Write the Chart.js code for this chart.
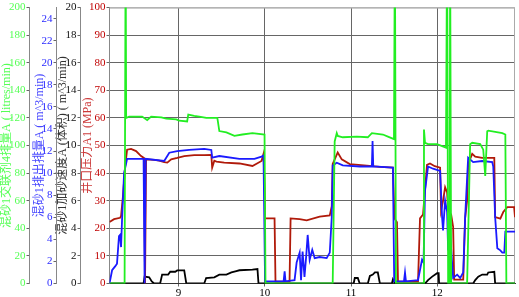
<!DOCTYPE html>
<html>
<head>
<meta charset="utf-8">
<script src="https://cdn.jsdelivr.net/npm/chart.js@4.4.1/dist/chart.umd.min.js"></script>
<style>
  html, body { margin:0; padding:0; background:#fff; }
  #wrap { width:519px; height:297px; }
</style>
</head>
<body>
<div id="wrap"><canvas id="c" width="519" height="297"></canvas></div>
<script>
// time axis
const X_MIN = 8.2, X_MAX = 12.9;
const xTicks = [9, 10, 11, 12];

// 井口压力A1 (MPa)
const presX = [8.2, 8.253, 8.323, 8.334, 8.357, 8.38, 8.404, 8.45, 8.508, 8.566, 8.6, 8.612, 8.624,
  8.718, 8.776, 8.834, 8.87, 8.915, 8.985, 9.066, 9.182, 9.298, 9.38, 9.39, 9.415, 9.44, 9.53, 9.706,
  9.857, 9.962, 9.985, 9.997, 10.003, 10.113, 10.124, 10.287, 10.299, 10.403, 10.485, 10.636, 10.753,
  10.776, 10.787, 10.845, 10.892, 10.985, 11.183, 11.334, 11.485, 11.503, 11.532, 11.544, 11.776,
  11.799, 11.834, 11.88, 11.915, 11.97, 12.032, 12.043, 12.066, 12.09, 12.113, 12.125, 12.16, 12.183,
  12.195, 12.3, 12.322, 12.345, 12.357, 12.404, 12.439, 12.52, 12.66, 12.67, 12.73, 12.764, 12.81, 12.89, 12.9];
const presY = [22.3, 23.3, 23.8, 24.5, 32, 42, 48.5, 48.8, 48, 46.2, 45.5, 0, 45,
  44.8, 44.5, 44, 43.8, 45, 45.5, 46.2, 46.5, 46.5, 46.6, 42, 44.5, 44.2, 43.8, 43.5,
  42.6, 44.4, 47, 36, 23.6, 23.6, 0.7, 0.7, 23.6, 23.3, 22.9, 24.2, 24.7,
  28, 43.3, 47.5, 45, 43.3, 42.7, 42.3, 42, 23.6, 22.2, 0.7, 0.7,
  23.6, 25, 43, 43.5, 42.5, 42, 26.5, 30, 34.9, 33, 26.5, 25, 20.5,
  1.4, 1.4, 23.6, 30, 43.3, 47, 46, 45.5, 45.5, 24.1, 23.5, 25.9, 27.7, 27.7, 24];

// 混砂1排出排量A (m^3/min)
const rateX = [8.2, 8.23, 8.265, 8.287, 8.31, 8.322, 8.334, 8.345, 8.369, 8.404, 8.595, 8.607, 8.619,
  8.834, 8.893, 8.985, 9.124, 9.298, 9.38, 9.39, 9.473, 9.706, 9.88, 9.962, 9.985, 10.003, 10.218,
  10.23, 10.24, 10.345, 10.369, 10.404, 10.42, 10.438, 10.46, 10.48, 10.497, 10.52, 10.55, 10.578,
  10.636, 10.717, 10.753, 10.776, 10.787, 10.834, 10.904, 11.101, 11.241, 11.249, 11.257, 11.485,
  11.5, 11.613, 11.625, 11.636, 11.776, 11.822, 11.84, 11.857, 11.892, 11.95, 12.032, 12.055, 12.066,
  12.09, 12.113, 12.125, 12.148, 12.183, 12.23, 12.265, 12.3, 12.322, 12.357, 12.415, 12.52, 12.636,
  12.648, 12.67, 12.695, 12.73, 12.753, 12.776, 12.788, 12.9];
const rateY = [0, 1.2, 1.55, 1.8, 4.3, 4.4, 3.3, 5.7, 10, 11.3, 11.3, 0, 11.3,
  11.1, 11.85, 12.0, 12.1, 12.2, 12.1, 11.4, 11.55, 11.3, 11.3, 11.5, 11.6, 0.2, 0.2,
  1.1, 0.2, 0.3, 1.9, 2.8, 0.3, 2.9, 0.6, 2.5, 4.4, 2.15, 3.05, 2.3,
  2.4, 2.3, 2.8, 6, 10.7, 10.95, 10.7, 10.6, 10.6, 12.9, 10.6, 10.5,
  0.2, 0.2, 1.0, 0.2, 0.3, 2.15, 1.9, 8.4, 10.6, 10.4, 10.2, 6, 4.8,
  7.5, 6.5, 3, 4.5, 0.5, 0.8, 0.5, 1.0, 6, 11.4, 11, 11.1, 11,
  10.6, 6, 3.2, 3, 2.8, 2.8, 4.7, 4.7];

// 混砂1加砂速度A (体积) (m^3/min)
const sandX = [8.2, 8.595, 8.607, 8.66, 8.69, 8.717, 8.787, 8.81, 8.88, 8.904, 8.962, 8.985, 9.066, 9.09,
  9.298, 9.32, 9.415, 9.473, 9.555, 9.613, 9.67, 9.706, 9.857, 9.915, 9.927,
  11.03, 11.043, 11.078, 11.1, 11.194, 11.218, 11.252, 11.276, 11.31, 11.334, 11.473, 11.485, 11.508,
  11.857, 11.892, 11.94, 11.997, 12.015, 12.02, 12.415, 12.439, 12.474, 12.52, 12.578, 12.59, 12.66, 12.67, 12.9];
const sandY = [0, 0, 0.5, 0.45, 0.15, 0, 0, 0.65, 0.65, 0.85, 0.85, 0.95, 0.95, 0,
  0, 0.4, 0.45, 0.64, 0.65, 0.8, 0.9, 0.96, 1.0, 1.05, 0,
  0, 0.4, 0.4, 0, 0, 0.55, 0.65, 0.8, 0.8, 0, 0, 0.3, 0,
  0, 0.25, 0.5, 0.75, 0.75, 0, 0, 0.25, 0.5, 0.65, 0.65, 0.8, 0.85, 0, 0];

// 混砂1交联剂4排量A (litres/min)
const xlinkX = [8.2, 8.375, 8.387, 8.393, 8.428, 8.578, 8.637, 8.683, 8.8, 8.857, 8.974, 9.008, 9.1, 9.113,
  9.182, 9.24, 9.322, 9.45, 9.473, 9.555, 9.648, 9.74, 9.857, 9.997, 10.008, 10.787, 10.81, 10.834,
  10.845, 10.904, 11.066, 11.194, 11.241, 11.369, 11.427, 11.497, 11.508, 11.52, 11.834, 11.845,
  11.857, 11.892, 11.997, 12.1, 12.113, 12.125, 12.143, 12.148, 12.16, 12.345, 12.38, 12.404, 12.497,
  12.532, 12.555, 12.578, 12.59, 12.753, 12.788, 12.8, 12.9];
const xlinkY = [0, 0, 250, 120, 121, 121, 118.5, 121, 120.5, 119.5, 119, 118, 117.5, 122.5,
  121.5, 121, 120, 120, 110.5, 109.5, 107, 108, 109, 108, 0, 0, 103, 109,
  107, 106, 106.5, 106, 109, 108, 106.5, 104.7, 250, 0, 0, 111.6,
  102, 101, 101, 98.5, 250, 0, 0, 250, 0, 0, 101, 102, 101,
  97, 78, 110.4, 110.8, 109, 108, 0, 0];

const SERIF = "'Liberation Serif', 'Noto Sans CJK SC', serif";
const pts = (xs, ys) => xs.map((x, i) => ({ x, y: ys[i] }));

const frame = {
  id: 'frame',
  beforeDatasetsDraw(chart) {
    const { ctx, chartArea: a } = chart;
    ctx.save();
    ctx.strokeStyle = '#aaa';
    ctx.lineWidth = 1;
    ctx.beginPath();
    ctx.moveTo(a.left, a.top + 0.5);
    ctx.lineTo(a.right - 0.5, a.top + 0.5);
    ctx.lineTo(a.right - 0.5, a.bottom);
    ctx.stroke();
    ctx.restore();
  }
};

function leftAxis(opt) {
  return {
    type: 'linear', position: 'left', min: opt.min, max: opt.max, weight: opt.weight,
    afterFit: s => { s.width = opt.width; },
    border: { display: true, color: '#888', width: 1 },
    grid: {
      drawOnChartArea: !!opt.grid, drawTicks: true, tickLength: 3, tickColor: '#666',
      color: ctx => (ctx.tick && ctx.tick.value === opt.max) ? '#bbb' : '#666'
    },
    ticks: {
      stepSize: opt.step, includeBounds: false, padding: 1, color: opt.color,
      font: { family: SERIF, size: 11 }
    },
    title: {
      display: true, text: opt.title, color: opt.titleColor,
      font: { family: SERIF, size: 12, lineHeight: 1 },
      padding: { top: opt.tpad, bottom: 0 }
    }
  };
}

new Chart(document.getElementById('c'), {
  type: 'line',
  data: {
    datasets: [
      { label: '混砂1交联剂4排量A', data: pts(xlinkX, xlinkY), yAxisID: 'yGreen', borderColor: '#22ee22', order: 0 },
      { label: '混砂1排出排量A', data: pts(rateX, rateY), yAxisID: 'yBlue', borderColor: '#1a1aff', order: 1 },
      { label: '井口压力A1', data: pts(presX, presY), yAxisID: 'yRed', borderColor: '#b01a0a', order: 2 },
      { label: '混砂1加砂速度A', data: pts(sandX, sandY), yAxisID: 'yBlack', borderColor: '#000', order: 3 }
    ]
  },
  options: {
    responsive: false,
    animation: false,
    elements: { point: { radius: 0 }, line: { borderWidth: 1.8, tension: 0, fill: false } },
    layout: { padding: { top: 5, right: 4, bottom: 0, left: 0 } },
    plugins: { legend: { display: false }, tooltip: { enabled: false } },
    scales: {
      x: {
        type: 'linear', position: 'bottom', min: X_MIN, max: X_MAX,
        afterBuildTicks: s => { s.ticks = xTicks.map(v => ({ value: v })); },
        afterFit: s => { s.height = 13.5; },
        border: { display: true, color: '#333', width: 1 },
        grid: { color: '#666', tickLength: 3, tickColor: '#666' },
        ticks: { color: '#000', padding: 0, font: { family: SERIF, size: 11 } }
      },
      yRed: leftAxis({ min: 0, max: 100, step: 10, weight: 1, width: 29, grid: true,
        color: '#c00000', titleColor: '#cc3a3a', title: '井口压力A1 (MPa)', tpad: 1.5 }),
      yBlack: leftAxis({ min: 0, max: 20, step: 2, weight: 2, width: 24,
        color: '#111', titleColor: '#333', title: '混砂1加砂速度A (体积) ( m^3/min)', tpad: 0 }),
      yBlue: leftAxis({ min: 0, max: 25, step: 2, weight: 3, width: 27,
        color: '#2a2aff', titleColor: '#4a4aff', title: '混砂1排出排量A ( m^3/min)', tpad: 4.5 }),
      yGreen: leftAxis({ min: 0, max: 200, step: 20, weight: 4, width: 29.5,
        color: '#55ff55', titleColor: '#55ff55', title: '混砂1交联剂4排量A ( litres/min)', tpad: 1 })
    }
  },
  plugins: [frame]
});
</script>
</body>
</html>
